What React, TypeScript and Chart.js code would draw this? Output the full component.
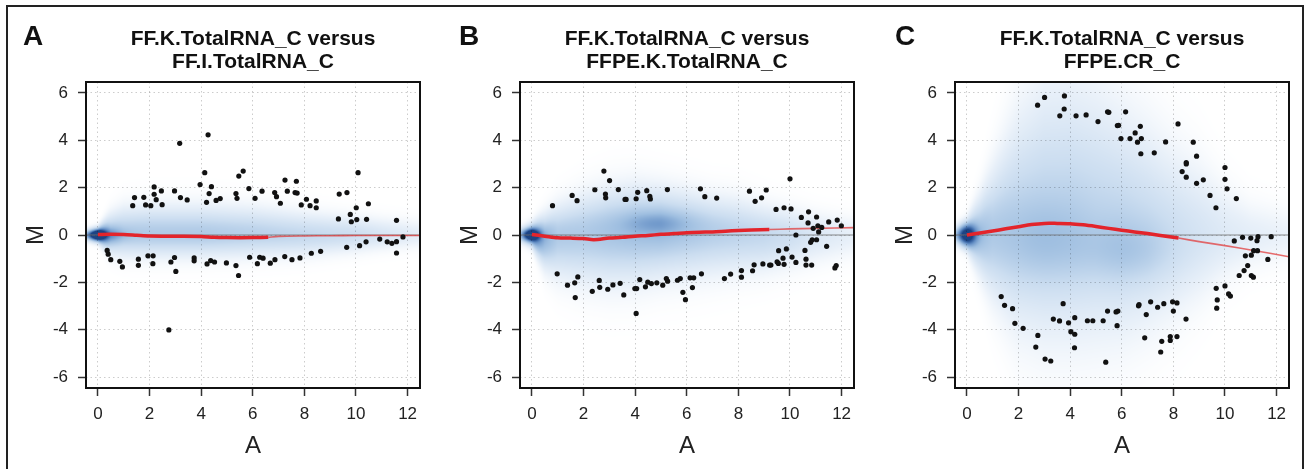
import React, { useEffect, useRef } from "react";
import { Chart, registerables } from "chart.js";
Chart.register(...registerables);

// ---------- shared axes ----------
const xTickValues = [0, 2, 4, 6, 8, 10, 12];
const yTickValues = [-6, -4, -2, 0, 2, 4, 6];
const xRange = [-0.46, 12.48];
const yRange = [-6.46, 6.46];

// ---------- Panel A ----------
const titleA = ["FF.K.TotalRNA_C versus", "FF.I.TotalRNA_C"];
const outA_A = [1.35,1.42,1.78,1.85,2.05,2.18,2.18,2.26,2.46,2.49,2.97,3.17,3.2,3.46,3.96,4.14,4.27,4.31,4.4,4.21,4.58,4.74,5.35,5.39,5.46,5.63,5.85,6.09,6.36,6.85,6.92,7.07,7.25,7.34,7.69,7.64,7.72,7.88,8.08,8.22,8.46,8.46,9.35,9.65,9.32,9.78,9.82,10.01,10.08,10.03,10.41,10.48,11.57,
  0.36,0.4,0.5,0.85,0.95,1.57,1.57,1.94,2.14,2.13,2.83,2.97,3.02,2.75,3.73,3.73,4.23,4.37,4.52,4.98,5.35,5.45,5.88,6.18,6.27,6.4,6.68,6.86,7.24,7.52,7.83,8.27,8.63,9.64,10.14,10.39,10.92,11.21,11.39,11.57,11.57,11.82];
const outA_M = [1.24,1.58,1.59,1.27,1.24,2.03,1.72,1.49,1.86,1.28,1.86,3.87,1.58,1.48,2.13,2.63,4.23,1.75,2.04,1.38,1.46,1.54,1.75,1.55,2.49,2.7,1.96,1.55,1.85,1.79,1.62,1.34,2.32,1.85,2.27,1.79,1.77,1.27,1.51,1.24,1.44,1.15,1.73,1.79,0.68,0.87,0.56,1.15,2.63,0.65,0.66,1.32,0.62,
  -0.65,-0.81,-1.04,-1.11,-1.35,-1.02,-1.28,-0.88,-0.88,-1.21,-1.14,-0.95,-1.54,-4.01,-0.97,-1.09,-1.22,-1.08,-1.14,-1.18,-1.29,-1.71,-0.94,-1.21,-0.94,-0.98,-1.19,-1.04,-0.91,-1.04,-0.97,-0.77,-0.69,-0.52,-0.45,-0.29,-0.17,-0.29,-0.35,-0.28,-0.76,-0.08];
const loessA_A = [0,0.5,1,1.5,2,3,4,4.5,5,6,6.6,7,8,9,10,11,12.48];
const loessA_M = [0.02,0.03,0.02,-0.01,-0.04,-0.05,-0.06,-0.1,-0.11,-0.11,-0.1,-0.06,-0.04,-0.03,-0.02,-0.02,-0.02];
const loessA_thinFrom = 6.6;
const densA_A = [-0.5,0,0.5,1,2,4,6,8,10,11,12.5];
const densA_Mid = [0,0,0,0.05,0.05,0.05,0.05,0,0,0,0];
const densA_Up = [0.15,0.2,0.55,0.7,0.75,0.75,0.7,0.6,0.5,0.45,0.4];
const densA_Down = [0.15,0.2,0.5,0.6,0.62,0.62,0.6,0.55,0.45,0.4,0.35];
const densA_Peak = [0.4,0.9,0.5,0.42,0.42,0.42,0.38,0.33,0.28,0.22,0.14];
const blobA_A = [0, 0.3];
const blobA_M = [0, 0];
const blobA_SdA = [0.2, 0.5];
const blobA_SdM = [0.13, 0.2];
const blobA_W = [0.6, 0.25];

// ---------- Panel B ----------
const titleB = ["FF.K.TotalRNA_C versus", "FFPE.K.TotalRNA_C"];
const outB_A = [0.8,1.56,1.75,2.44,2.79,3.01,2.85,2.86,3.35,3.61,3.65,4.04,4.1,4.45,4.57,4.59,5.25,6.53,6.7,7.16,8.43,8.65,8.9,9.08,9.46,9.77,10.04,10.0,10.44,10.7,10.72,11.03,10.9,11.08,11.23,11.5,11.83,11.99,
  0.98,1.38,1.66,1.78,1.68,2.34,2.61,2.63,2.94,3.14,3.42,3.56,3.99,4.06,4.04,4.18,4.4,4.49,4.63,4.84,5.07,5.21,5.26,5.64,5.75,5.85,5.95,6.13,6.27,6.22,6.57,7.46,7.7,8.12,8.12,8.55,8.61,8.95,9.21,9.26,9.5,9.55,9.56,9.73,9.77,9.86,10.08,10.23,10.23,10.58,10.62,10.62,10.84,10.8,10.86,11.03,11.11,11.42,11.74,11.79];
const outB_M = [1.24,1.67,1.45,1.91,2.7,2.3,1.73,1.57,1.92,1.5,1.5,1.53,1.8,1.87,1.63,1.52,1.92,1.95,1.62,1.56,1.85,1.42,1.57,1.9,1.08,1.15,1.1,2.37,0.74,0.51,0.98,0.76,0.28,0.39,0.32,0.55,0.63,0.39,
  -1.64,-2.12,-2.02,-1.77,-2.64,-2.38,-1.92,-2.21,-2.29,-2.11,-2.04,-2.53,-2.26,-2.26,-3.31,-1.88,-2.19,-1.99,-2.05,-2.02,-2.12,-1.84,-1.95,-1.91,-1.84,-2.42,-2.73,-1.81,-1.81,-2.22,-1.64,-1.84,-1.65,-1.5,-1.78,-1.51,-1.26,-1.22,-1.27,-1.27,-1.13,-1.2,-0.66,-0.98,-1.24,-0.59,-0.93,-1.16,0.0,-0.65,-1.02,-1.27,-1.27,-0.31,-0.2,-0.2,0.13,-0.48,-1.39,-1.29];
const loessB_A = [0,0.5,1,1.5,2,2.4,3,3.5,4,4.5,5,5.5,6,6.5,7,7.5,8,8.5,9.2,10,11,12.48];
const loessB_M = [0.02,-0.05,-0.12,-0.13,-0.15,-0.2,-0.13,-0.1,-0.05,-0.02,0.03,0.06,0.1,0.12,0.13,0.16,0.19,0.21,0.23,0.26,0.28,0.31];
const loessB_thinFrom = 9.2;
const densB_A = [-0.5,0,0.5,1,2,3,4,5,6,7,8,9,10,11,12.5];
const densB_Mid = [0,0,-0.1,0,0.1,0.2,0.3,0.35,0.3,0.2,0.1,0,0,0,0];
const densB_Up = [0.2,0.3,0.6,0.8,1.0,1.1,1.1,1.0,0.95,0.9,0.9,0.8,0.7,0.6,0.5];
const densB_Down = [0.2,0.3,0.8,1.1,1.3,1.4,1.4,1.3,1.25,1.15,1.05,0.95,0.85,0.75,0.6];
const densB_Peak = [0.4,0.9,0.55,0.42,0.42,0.46,0.5,0.52,0.46,0.4,0.36,0.33,0.28,0.2,0.12];
const blobB_A = [0, 4.8];
const blobB_M = [0, 0.5];
const blobB_SdA = [0.22, 0.8];
const blobB_SdM = [0.16, 0.3];
const blobB_W = [0.6, 0.15];

// ---------- Panel C ----------
const titleC = ["FF.K.TotalRNA_C versus", "FFPE.CR_C"];
const outC_A = [2.74,3.01,3.78,3.77,3.6,4.23,4.62,5.08,5.45,5.5,6.15,5.83,5.88,5.97,6.32,6.52,6.72,6.61,6.76,6.74,7.26,7.7,8.18,8.77,8.9,8.5,8.5,8.34,8.5,8.9,9.16,9.42,9.65,10.0,10.0,10.08,10.44,
  1.33,1.46,1.77,1.86,2.18,2.75,2.67,3.03,3.25,3.35,3.59,3.73,3.94,4.03,4.18,4.18,4.17,4.67,4.88,5.28,5.45,5.38,5.78,5.82,5.85,6.65,6.67,6.95,6.89,7.12,7.39,7.63,7.51,7.55,8.0,7.88,7.88,7.97,8.14,8.14,8.49,9.66,10.0,9.7,9.68,10.14,10.21,10.36,10.68,11.0,11.28,11.24,11.79,10.79,11.02,11.11,11.26,10.88,10.74,10.55,11.02,11.1,11.66];
const outC_M = [5.48,5.81,5.87,5.32,5.03,5.03,5.07,4.79,5.2,5.18,5.2,4.62,4.63,4.07,4.07,4.31,4.59,3.92,4.07,3.43,3.47,3.93,4.69,3.92,3.33,3.06,3.0,2.68,2.44,2.18,2.33,1.67,1.15,2.85,2.35,1.95,1.54,
  -2.6,-2.97,-3.11,-3.73,-3.94,-4.24,-4.73,-5.24,-5.32,-3.55,-3.63,-2.9,-3.71,-4.08,-3.49,-4.19,-4.76,-3.62,-3.62,-3.62,-3.21,-5.37,-3.25,-3.83,-3.21,-2.99,-2.94,-3.36,-4.34,-2.82,-3.05,-2.9,-4.94,-4.49,-3.21,-4.29,-4.45,-2.82,-2.87,-4.29,-3.55,-2.25,-2.15,-2.74,-3.09,-2.49,-2.58,-0.25,-0.1,-0.13,-0.07,-0.24,-0.07,-0.88,-0.85,-0.66,-0.66,-1.29,-1.5,-1.71,-1.71,-1.78,-1.03];
const loessC_A = [0,0.5,1,1.5,2,2.5,3,3.5,4,4.5,5,5.5,6,6.5,7,7.5,8.2,9,10,11,12.48];
const loessC_M = [0,0.08,0.17,0.26,0.35,0.44,0.49,0.49,0.48,0.43,0.36,0.28,0.2,0.13,0.06,-0.02,-0.13,-0.28,-0.45,-0.63,-0.92];
const loessC_thinFrom = 8.2;
const densC_A = [-0.5,0,0.5,1,2,3,4,5,6,7,8,9,10,11,12.5];
const densC_Mid = [0,0,0,0.1,0.3,0.4,0.4,0.3,0.1,0,0,0,0,0,0];
const densC_Up = [0.2,0.4,1.0,1.7,3.0,3.7,3.8,3.6,3.2,2.8,2.3,1.9,1.3,0.9,0.7];
const densC_Down = [0.2,0.4,1.0,1.7,2.7,3.0,3.0,2.9,2.7,2.4,2.1,1.7,1.2,0.9,0.7];
const densC_Peak = [0.3,0.6,0.48,0.4,0.38,0.38,0.38,0.36,0.36,0.33,0.28,0.23,0.18,0.14,0.1];
const blobC_A = [0, 3.0, 6.2];
const blobC_M = [0, -0.3, -0.7];
const blobC_SdA = [0.25, 1.2, 1.2];
const blobC_SdM = [0.3, 1.2, 0.9];
const blobC_W = [0.65, 0.12, 0.12];

// ---------- helpers ----------
const FONT = '"Liberation Sans", Arial, Helvetica, sans-serif';
const rampT = [0, 0.12, 0.3, 0.5, 0.7, 0.85, 1];
const rampRGB = [[255,255,255],[232,240,249],[203,221,240],[158,190,224],[104,146,199],[60,104,167],[28,68,132]];

function interp(xs: number[], ys: number[], v: number) {
  if (v <= xs[0]) return ys[0];
  for (let i = 1; i < xs.length; i++) {
    if (v <= xs[i]) {
      const t = (v - xs[i - 1]) / (xs[i] - xs[i - 1]);
      return ys[i - 1] + t * (ys[i] - ys[i - 1]);
    }
  }
  return ys[ys.length - 1];
}

function rampColor(t: number) {
  t = Math.max(0, Math.min(1, t));
  for (let i = 1; i < rampT.length; i++) {
    if (t <= rampT[i]) {
      const f = (t - rampT[i - 1]) / (rampT[i] - rampT[i - 1]);
      const a = rampRGB[i - 1], b = rampRGB[i];
      return [a[0] + f * (b[0] - a[0]), a[1] + f * (b[1] - a[1]), a[2] + f * (b[2] - a[2])];
    }
  }
  return rampRGB[rampRGB.length - 1];
}

type Panel = {
  letter: string; letterX: number; title: string[];
  ptsA: number[]; ptsM: number[];
  loA: number[]; loM: number[]; thinFrom: number;
  dA: number[]; dMid: number[]; dUp: number[]; dDown: number[]; dPeak: number[];
  bA: number[]; bM: number[]; bSdA: number[]; bSdM: number[]; bW: number[];
  rightPad: number; width: number; left: number;
};

const panels: Panel[] = [
  { letter: "A", letterX: 15, title: titleA, ptsA: outA_A, ptsM: outA_M, loA: loessA_A, loM: loessA_M, thinFrom: loessA_thinFrom,
    dA: densA_A, dMid: densA_Mid, dUp: densA_Up, dDown: densA_Down, dPeak: densA_Peak,
    bA: blobA_A, bM: blobA_M, bSdA: blobA_SdA, bSdM: blobA_SdM, bW: blobA_W, left: 8, width: 430, rightPad: 18 },
  { letter: "B", letterX: 17, title: titleB, ptsA: outB_A, ptsM: outB_M, loA: loessB_A, loM: loessB_M, thinFrom: loessB_thinFrom,
    dA: densB_A, dMid: densB_Mid, dUp: densB_Up, dDown: densB_Down, dPeak: densB_Peak,
    bA: blobB_A, bM: blobB_M, bSdA: blobB_SdA, bSdM: blobB_SdM, bW: blobB_W, left: 442, width: 430, rightPad: 18 },
  { letter: "C", letterX: 18, title: titleC, ptsA: outC_A, ptsM: outC_M, loA: loessC_A, loM: loessC_M, thinFrom: loessC_thinFrom,
    dA: densC_A, dMid: densC_Mid, dUp: densC_Up, dDown: densC_Down, dPeak: densC_Peak,
    bA: blobC_A, bM: blobC_M, bSdA: blobC_SdA, bSdM: blobC_SdM, bW: blobC_W, left: 877, width: 424, rightPad: 12 },
];

function makeChart(canvas: HTMLCanvasElement, p: Panel) {
  const pts = p.ptsA.map((a, i) => ({ x: a, y: p.ptsM[i] }));
  const lo = p.loA.map((a, i) => ({ x: a, y: p.loM[i] }));
  const thick = lo.filter((d) => d.x <= p.thinFrom);
  const thin = lo.filter((d) => d.x >= p.thinFrom);

  const densityPlugin = {
    id: "density" + p.letter,
    beforeDraw(chart: any) {
      const { ctx, chartArea, scales } = chart;
      const left = Math.round(chartArea.left), top = Math.round(chartArea.top);
      const w = Math.round(chartArea.right) - left, h = Math.round(chartArea.bottom) - top;
      const off = document.createElement("canvas");
      off.width = w; off.height = h;
      const octx = off.getContext("2d")!;
      const img = octx.createImageData(w, h);
      const yVals: number[] = [];
      for (let j = 0; j < h; j++) yVals.push(scales.y.getValueForPixel(top + j + 0.5));
      for (let i = 0; i < w; i++) {
        const a = scales.x.getValueForPixel(left + i + 0.5);
        const mid = interp(p.dA, p.dMid, a);
        const up = interp(p.dA, p.dUp, a);
        const dn = interp(p.dA, p.dDown, a);
        const pk = interp(p.dA, p.dPeak, a);
        const bx = p.bA.map((ba, k) => p.bW[k] * Math.exp(-0.5 * Math.pow((a - ba) / p.bSdA[k], 2)));
        for (let j = 0; j < h; j++) {
          const m = yVals[j];
          const z = (m - mid) / (m >= mid ? up : dn);
          let s = pk * Math.exp(-0.5 * z * z);
          for (let k = 0; k < bx.length; k++) {
            const zz = (m - p.bM[k]) / p.bSdM[k];
            s += bx[k] * Math.exp(-0.5 * zz * zz);
          }
          const c = rampColor(s);
          const idx = (j * w + i) * 4;
          img.data[idx] = c[0]; img.data[idx + 1] = c[1]; img.data[idx + 2] = c[2]; img.data[idx + 3] = 255;
        }
      }
      octx.putImageData(img, 0, 0);
      ctx.save();
      ctx.drawImage(off, left, top);
      ctx.restore();
    },
    beforeDatasetsDraw(chart: any) {
      const { ctx, chartArea, scales } = chart;
      const y0 = scales.y.getPixelForValue(0);
      ctx.save();
      ctx.strokeStyle = "rgba(110,110,110,0.8)";
      ctx.lineWidth = 1;
      ctx.beginPath();
      ctx.moveTo(chartArea.left, y0);
      ctx.lineTo(chartArea.right, y0);
      ctx.stroke();
      ctx.restore();
    },
    afterDatasetsDraw(chart: any) {
      const { ctx, chartArea } = chart;
      ctx.save();
      ctx.strokeStyle = "#111";
      ctx.lineWidth = 2;
      ctx.strokeRect(chartArea.left, chartArea.top, chartArea.right - chartArea.left, chartArea.bottom - chartArea.top);
      ctx.restore();
    },
    afterDraw(chart: any) {
      const { ctx, chartArea } = chart;
      ctx.save();
      ctx.fillStyle = "#111";
      ctx.textBaseline = "alphabetic";
      ctx.textAlign = "left";
      ctx.font = `bold 28px ${FONT}`;
      ctx.fillText(p.letter, p.letterX, 37);
      ctx.textAlign = "center";
      ctx.font = `bold 21px ${FONT}`;
      const cx = (chartArea.left + chartArea.right) / 2;
      ctx.fillText(p.title[0], cx, 37);
      ctx.fillText(p.title[1], cx, 60);
      ctx.restore();
    },
  };

  const gridOpts = {
    color: "rgba(0,0,0,0.2)",
    lineWidth: 1,
    drawTicks: true,
    tickLength: 8,
    tickColor: "#333",
    tickWidth: 1.5,
    tickBorderDash: [],
  };
  const borderOpts = { display: false, dash: [1.5, 3] };

  return new Chart(canvas, {
    type: "scatter",
    data: {
      datasets: [
        { data: pts, pointRadius: 2.6, pointBackgroundColor: "#111", pointBorderWidth: 0, showLine: false } as any,
        { data: thick, showLine: true, borderColor: "#e3242b", borderWidth: 3.5, pointRadius: 0, tension: 0.3, fill: false } as any,
        { data: thin, showLine: true, borderColor: "rgba(226,60,60,0.75)", borderWidth: 1.6, pointRadius: 0, tension: 0.3, fill: false } as any,
      ],
    },
    options: {
      animation: false,
      responsive: false,
      events: [],
      layout: { padding: { left: 0, right: p.rightPad, top: 74, bottom: 0 } },
      plugins: { legend: { display: false }, tooltip: { enabled: false }, title: { display: false } },
      scales: {
        x: {
          type: "linear",
          min: xRange[0], max: xRange[1],
          afterBuildTicks: (s: any) => { s.ticks = xTickValues.map((v) => ({ value: v })); },
          afterFit: (s: any) => { s.height = 78; },
          grid: gridOpts as any,
          border: borderOpts as any,
          ticks: { color: "#222", font: { size: 17, family: FONT }, padding: 8, maxRotation: 0, autoSkip: false, callback: (v: any) => String(v) },
          title: { display: true, text: "A", color: "#222", font: { size: 24, family: FONT }, padding: { top: 0, bottom: 5 } },
        },
        y: {
          type: "linear",
          min: yRange[0], max: yRange[1],
          afterBuildTicks: (s: any) => { s.ticks = yTickValues.map((v) => ({ value: v })); },
          afterFit: (s: any) => { s.width = 78; },
          grid: gridOpts as any,
          border: borderOpts as any,
          ticks: { color: "#222", font: { size: 17, family: FONT }, padding: 10, autoSkip: false, callback: (v: any) => String(v) },
          title: { display: true, text: "M", color: "#222", font: { size: 24, family: FONT }, padding: { top: 14, bottom: 0 } },
        },
      },
    },
    plugins: [densityPlugin as any],
  });
}

export default function App() {
  const refs = [useRef<HTMLCanvasElement>(null), useRef<HTMLCanvasElement>(null), useRef<HTMLCanvasElement>(null)];
  useEffect(() => {
    const charts = panels.map((p, i) => makeChart(refs[i].current!, p));
    return () => charts.forEach((c) => c.destroy());
  }, []);
  return (
    <div style={{ position: "fixed", left: 0, top: 0, width: 1305, height: 469, overflow: "hidden", background: "#fff" }}>
      <div style={{ position: "absolute", left: 6, top: 5, width: 1298, height: 475, border: "2px solid #222", boxSizing: "border-box" }} />
      {panels.map((p, i) => (
        <canvas
          key={p.letter}
          ref={refs[i]}
          width={p.width}
          height={458}
          style={{ position: "absolute", left: p.left, top: 8, width: p.width, height: 458 }}
        />
      ))}
    </div>
  );
}
